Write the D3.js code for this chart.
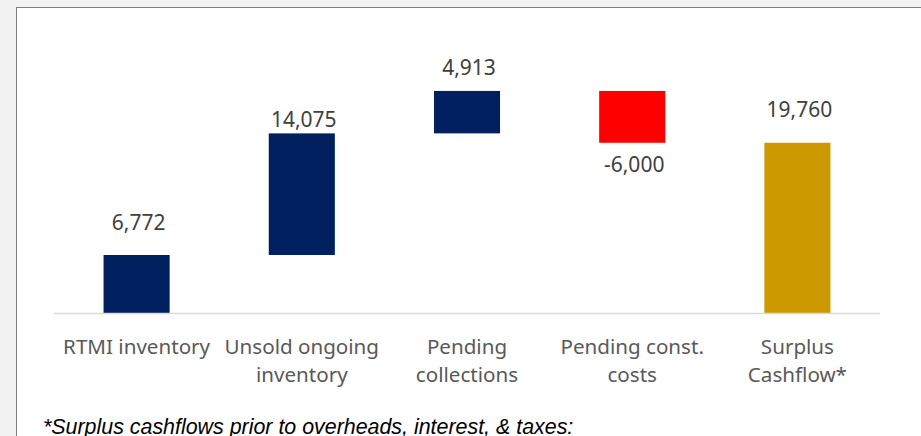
<!DOCTYPE html>
<html>
<head>
<meta charset="utf-8">
<script src="https://cdn.jsdelivr.net/npm/d3@7"></script>
<style>
  body { margin: 0; background: #f2f2f2; }
  svg { display: block; }
</style>
</head>
<body>
<script>
var categories = [["RTMI inventory"], ["Unsold ongoing", "inventory"], ["Pending", "collections"], ["Pending const.", "costs"], ["Surplus", "Cashflow*"]];
var values = [6772, 14075, 4913, -6000, 19760];
var isTotal = [false, false, false, false, true];
var barColors = ["#002060", "#002060", "#002060", "#ff0000", "#cc9900"];
// label offsets from the bar end, as the original places them
var labelDy = [-25, -6, -16, 29, -26];

var width = 921, height = 436;

var svg = d3.select("body").append("svg")
    .attr("width", width)
    .attr("height", height);

// chart area with border on left and top
svg.append("rect")
    .attr("x", 16.5).attr("y", 7.5)
    .attr("width", width).attr("height", height)
    .attr("fill", "#ffffff")
    .attr("stroke", "#7f7f7f")
    .attr("stroke-width", 1);

// running totals for the waterfall
var steps = [];
var run = 0;
values.forEach(function (v, i) {
    if (isTotal[i]) {
        steps.push({ start: 0, end: v, v: v, i: i });
        run = v;
    } else {
        steps.push({ start: run, end: run + v, v: v, i: i });
        run += v;
    }
});

var x = d3.scaleBand()
    .domain(d3.range(categories.length))
    .range([54, 880])
    .paddingInner(0.6)
    .paddingOuter(0.3);

var y = d3.scaleLinear()
    .domain([0, 30000])
    .range([313.5, 54.3]);

svg.selectAll("rect.bar")
    .data(steps)
    .enter().append("rect")
    .attr("class", "bar")
    .attr("x", function (d) { return x(d.i); })
    .attr("width", x.bandwidth())
    .attr("y", function (d) { return y(Math.max(d.start, d.end)); })
    .attr("height", function (d) { return Math.abs(y(d.start) - y(d.end)); })
    .attr("fill", function (d) { return barColors[d.i]; });

// baseline
svg.append("line")
    .attr("x1", 54).attr("x2", 880)
    .attr("y1", y(0)).attr("y2", y(0))
    .attr("stroke", "#d9d9d9")
    .attr("stroke-width", 1.5);

var fmt = function (v) { return d3.format(",")(v).replace("\u2212", "-"); };

svg.selectAll("text.val")
    .data(steps)
    .enter().append("text")
    .attr("class", "val")
    .attr("x", function (d) { return x(d.i) + x.bandwidth() / 2 + 2; })
    .attr("y", function (d) {
        return d.v < 0 ? y(Math.min(d.start, d.end)) + labelDy[d.i] : y(Math.max(d.start, d.end)) + labelDy[d.i];
    })
    .attr("text-anchor", "middle")
    .attr("font-family", "Noto Sans, Open Sans, sans-serif")
    .attr("font-size", "21px")
    .attr("fill", "#404040")
    .text(function (d) { return fmt(d.v); });

var cats = svg.selectAll("text.cat")
    .data(categories)
    .enter().append("text")
    .attr("class", "cat")
    .attr("x", function (d, i) { return x(i) + x.bandwidth() / 2; })
    .attr("y", 353.5)
    .attr("text-anchor", "middle")
    .attr("font-family", "Noto Sans, Open Sans, sans-serif")
    .attr("font-size", "20.6px")
    .attr("fill", "#595959");

cats.selectAll("tspan")
    .data(function (d) { return d; })
    .enter().append("tspan")
    .attr("x", function () { return d3.select(this.parentNode).attr("x"); })
    .attr("dy", function (d, j) { return j === 0 ? 0 : 28.4; })
    .text(function (d) { return d; });

svg.append("text")
    .attr("x", 43)
    .attr("y", 434)
    .attr("font-family", "Liberation Sans, Arial, sans-serif")
    .attr("font-style", "italic")
    .attr("font-size", "21.4px")
    .attr("fill", "#000000")
    .text("*Surplus cashflows prior to overheads, interest, & taxes:");
</script>
</body>
</html>
